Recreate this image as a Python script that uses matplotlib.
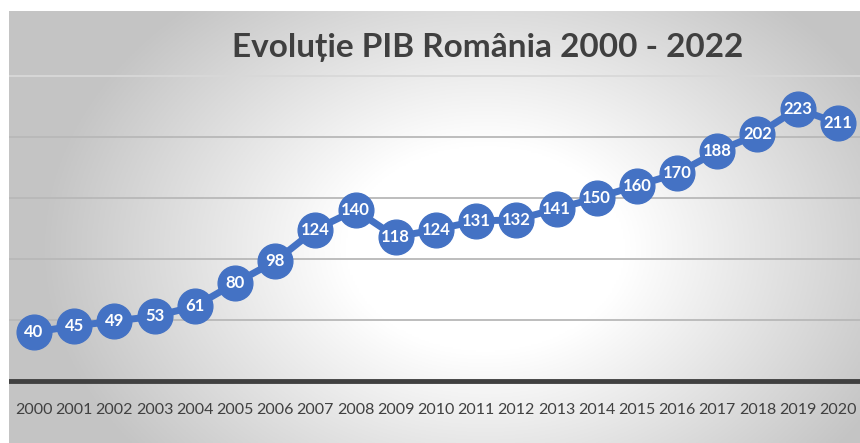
import numpy as np
import matplotlib.pyplot as plt

## Datos
ani = [str(a) for a in range(2000, 2021)]
pib = [40, 45, 49, 53, 61, 80, 98, 124, 140, 118, 124, 131, 132, 141, 150, 160, 170, 188, 202, 223, 211]
titlu = 'Evoluție PIB România 2000 - 2022'

albastru = '#4472C4'
gri_text = '#404040'

W, H = 860, 443
fig = plt.figure(figsize=(W / 100, H / 100), dpi=100)

## Zona graficului (margine alba sus si stanga)
x0, y0 = 9, 11
ax = fig.add_axes([x0 / W, 0, (W - x0) / W, (H - y0) / H])

x = np.arange(len(ani))
xmin, xmax = -0.62, 20.55
ymin, ymax = -50.8, 303
ax.set_xlim(xmin, xmax)
ax.set_ylim(ymin, ymax)

## Fundal cu gradient radial
gx, gy = np.meshgrid(np.linspace(0, 1, 400), np.linspace(0, 1, 300))
d = np.sqrt(((gx - 0.56) / 0.55) ** 2 + ((gy - 0.55) / 0.8) ** 2)
v = 1 - 0.23 * np.clip((d - 0.3) / 0.65, 0, 1)
img = np.dstack([v, v, v])
ax.imshow(img, extent=[xmin, xmax, ymin, ymax], aspect='auto', origin='upper', zorder=0)

## Linii de grila
for g in [50, 100, 150, 200, 250]:
    ax.axhline(g, color='#b8b8b8' if g < 250 else '#d8d8d8', lw=1.3, zorder=1)
ax.axhline(0, color=gri_text, lw=3.5, zorder=2)

## Seria
ax.plot(x, pib, color=albastru, lw=5, marker='o', markersize=25,
        markerfacecolor=albastru, markeredgecolor=albastru, zorder=3)
for xi, val in zip(x, pib):
    ax.text(xi, val, str(val), color='white', fontsize=12, fontweight='bold',
            family='Lato', ha='center', va='center', zorder=4, clip_on=True)

## Etichete axa X
for xi, a in zip(x, ani):
    ax.text(xi, -23.5, a, color=gri_text, fontsize=11.5, family='Lato',
            ha='center', va='center', zorder=4)

ax.axis('off')

fig.text(488 / W, 1 - 48 / H, titlu, fontsize=24, fontweight='bold', family='Lato',
         color=gri_text, ha='center', va='center')

fig.savefig('out.png', dpi=100)
